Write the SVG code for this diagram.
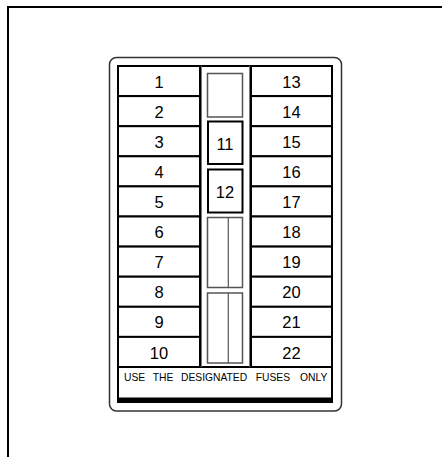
<svg xmlns="http://www.w3.org/2000/svg" width="442" height="457" viewBox="0 0 442 457">
<style>
.cell{fill:#fff;stroke:#000;stroke-width:2}
.num{font-family:"Liberation Sans",Arial,sans-serif;font-size:16.5px;fill:#000;text-anchor:middle}
.slot{fill:#fff;stroke:#555;stroke-width:1.5}
.fuse{fill:#fff;stroke:#000;stroke-width:2}
.note{font-family:"Liberation Sans",Arial,sans-serif;font-size:10.3px;fill:#000}
</style>
<rect width="442" height="457" fill="#fff"/>
<path d="M8,457 V7 H442" fill="none" stroke="#000" stroke-width="2"/>
<g id="panel">
<rect x="109.5" y="57.5" width="232" height="353.5" rx="7" fill="#fff" stroke="#333" stroke-width="1.5"/>
<path d="M118,66 V403 M332,66 V403 M118,367 H332 M200,66 H251" fill="none" stroke="#000" stroke-width="2"/>
<path d="M201.5,66 V367 M249.5,66 V367" fill="none" stroke="#777" stroke-width="1"/>
<rect x="118" y="397.5" width="214" height="5.5" fill="#000"/>
</g>
<g id="fuse-1"><rect class="cell" x="118" y="66" width="82" height="30.1"/><text class="num" x="159" y="87.6">1</text></g>
<g id="fuse-2"><rect class="cell" x="118" y="96.1" width="82" height="30.1"/><text class="num" x="159" y="117.7">2</text></g>
<g id="fuse-3"><rect class="cell" x="118" y="126.2" width="82" height="30.1"/><text class="num" x="159" y="147.8">3</text></g>
<g id="fuse-4"><rect class="cell" x="118" y="156.3" width="82" height="30.1"/><text class="num" x="159" y="177.9">4</text></g>
<g id="fuse-5"><rect class="cell" x="118" y="186.4" width="82" height="30.1"/><text class="num" x="159" y="208">5</text></g>
<g id="fuse-6"><rect class="cell" x="118" y="216.5" width="82" height="30.1"/><text class="num" x="159" y="238.1">6</text></g>
<g id="fuse-7"><rect class="cell" x="118" y="246.6" width="82" height="30.1"/><text class="num" x="159" y="268.2">7</text></g>
<g id="fuse-8"><rect class="cell" x="118" y="276.7" width="82" height="30.1"/><text class="num" x="159" y="298.3">8</text></g>
<g id="fuse-9"><rect class="cell" x="118" y="306.8" width="82" height="30.1"/><text class="num" x="159" y="328.4">9</text></g>
<g id="fuse-10"><rect class="cell" x="118" y="336.9" width="82" height="30.1"/><text class="num" x="159" y="358.5">10</text></g>
<g id="fuse-13"><rect class="cell" x="251" y="66" width="81" height="30.1"/><text class="num" x="291.5" y="87.6">13</text></g>
<g id="fuse-14"><rect class="cell" x="251" y="96.1" width="81" height="30.1"/><text class="num" x="291.5" y="117.7">14</text></g>
<g id="fuse-15"><rect class="cell" x="251" y="126.2" width="81" height="30.1"/><text class="num" x="291.5" y="147.8">15</text></g>
<g id="fuse-16"><rect class="cell" x="251" y="156.3" width="81" height="30.1"/><text class="num" x="291.5" y="177.9">16</text></g>
<g id="fuse-17"><rect class="cell" x="251" y="186.4" width="81" height="30.1"/><text class="num" x="291.5" y="208">17</text></g>
<g id="fuse-18"><rect class="cell" x="251" y="216.5" width="81" height="30.1"/><text class="num" x="291.5" y="238.1">18</text></g>
<g id="fuse-19"><rect class="cell" x="251" y="246.6" width="81" height="30.1"/><text class="num" x="291.5" y="268.2">19</text></g>
<g id="fuse-20"><rect class="cell" x="251" y="276.7" width="81" height="30.1"/><text class="num" x="291.5" y="298.3">20</text></g>
<g id="fuse-21"><rect class="cell" x="251" y="306.8" width="81" height="30.1"/><text class="num" x="291.5" y="328.4">21</text></g>
<g id="fuse-22"><rect class="cell" x="251" y="336.9" width="81" height="30.1"/><text class="num" x="291.5" y="358.5">22</text></g>
<g id="slot-top"><rect class="slot" x="207.5" y="73.5" width="35" height="43.5"/></g>
<g id="fuse-11"><rect class="fuse" x="208" y="121.5" width="34.5" height="42.5"/><text class="num" x="225" y="149.5">11</text></g>
<g id="fuse-12"><rect class="fuse" x="208" y="169.5" width="34.5" height="43"/><text class="num" x="225" y="197.5">12</text></g>
<g id="slot-pair-1"><rect class="slot" x="207.5" y="217.5" width="35" height="70"/><line x1="228.3" y1="217.5" x2="228.3" y2="287.5" stroke="#555" stroke-width="1.2"/></g>
<g id="slot-pair-2"><rect class="slot" x="207.5" y="293" width="35" height="70"/><line x1="228.3" y1="293" x2="228.3" y2="363" stroke="#555" stroke-width="1.2"/></g>
<g id="note"><text class="note" y="381"><tspan x="124">USE</tspan><tspan x="152.7">THE</tspan><tspan x="181">DESIGNATED</tspan><tspan x="255.7">FUSES</tspan><tspan x="300">ONLY</tspan></text></g>
</svg>
